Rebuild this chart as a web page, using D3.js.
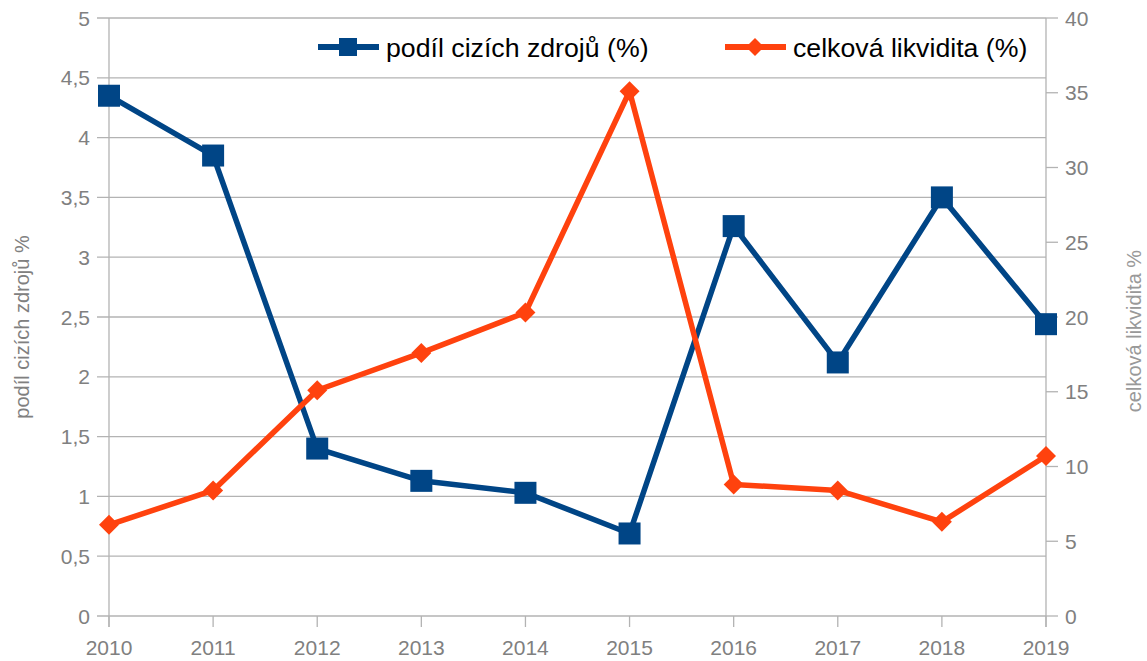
<!DOCTYPE html>
<html><head><meta charset="utf-8">
<script src="https://cdn.jsdelivr.net/npm/d3@7/dist/d3.min.js"></script>
<style>body{margin:0;background:#fff;}svg{display:block;font-family:"Liberation Sans",Arial,sans-serif;}</style>
</head><body>
<svg id="c" width="1147" height="661"></svg>
<script>
const years = [2010,2011,2012,2013,2014,2015,2016,2017,2018,2019];
const podil = [4.35,3.85,1.40,1.13,1.03,0.69,3.26,2.12,3.50,2.44];
const likvidita = [6.1,8.4,15.1,17.6,20.3,35.1,8.8,8.4,6.3,10.7];
const leftTicks = [0,0.5,1,1.5,2,2.5,3,3.5,4,4.5,5];
const rightTicks = [0,5,10,15,20,25,30,35,40];
const seriesNames = ["podíl cizích zdrojů (%)","celková likvidita (%)"];
const axisTitles = ["podíl cizích zdrojů %","celková likvidita %"];

const svg = d3.select("#c");
const L=109,R=1046,T=18,B=616;
const grid="#b3b3b3", txt="#808080";
const blue="#004586", orange="#ff420e";

const x = d3.scalePoint().domain(years).range([L,R]);
const yL = d3.scaleLinear().domain([0,5]).range([B,T]);
const yR = d3.scaleLinear().domain([0,40]).range([B,T]);
const fmt = d => String(d).replace(".",",");

svg.append("g").selectAll("line").data(leftTicks).join("line")
 .attr("x1",L-12).attr("x2",R).attr("y1",d=>yL(d)).attr("y2",d=>yL(d))
 .attr("stroke",grid).attr("stroke-width",1.3);
svg.append("line").attr("x1",L).attr("x2",L).attr("y1",T).attr("y2",B+11).attr("stroke",grid).attr("stroke-width",1.3);
svg.append("line").attr("x1",R).attr("x2",R).attr("y1",T).attr("y2",B+11).attr("stroke",grid).attr("stroke-width",1.3);
svg.append("g").selectAll("line").data(years).join("line")
 .attr("x1",d=>x(d)).attr("x2",d=>x(d)).attr("y1",B).attr("y2",B+11)
 .attr("stroke",grid).attr("stroke-width",1.3);
svg.append("g").selectAll("line").data(rightTicks).join("line")
 .attr("x1",R).attr("x2",R+12).attr("y1",d=>yR(d)).attr("y2",d=>yR(d))
 .attr("stroke",grid).attr("stroke-width",1.3);

svg.append("g").selectAll("text").data(leftTicks).join("text")
 .attr("x",L-19).attr("y",d=>yL(d)).attr("dy","0.36em").attr("text-anchor","end")
 .attr("fill",txt).attr("font-size",21).text(fmt);
svg.append("g").selectAll("text").data(rightTicks).join("text")
 .attr("x",R+19).attr("y",d=>yR(d)).attr("dy","0.36em").attr("text-anchor","start")
 .attr("fill",txt).attr("font-size",21).text(d=>d);
svg.append("g").selectAll("text").data(years).join("text")
 .attr("x",d=>x(d)).attr("y",B+39).attr("text-anchor","middle")
 .attr("fill",txt).attr("font-size",21).text(d=>d);

svg.append("text").attr("transform",`translate(29,327) rotate(-90)`)
 .attr("text-anchor","middle").attr("fill",txt).attr("font-size",20).text(axisTitles[0]);
svg.append("text").attr("transform",`translate(1141,331) rotate(-90)`)
 .attr("text-anchor","middle").attr("fill","#999").attr("font-size",20).text(axisTitles[1]);

const lineL = d3.line().x((d,i)=>x(years[i])).y(d=>yL(d));
const lineR = d3.line().x((d,i)=>x(years[i])).y(d=>yR(d));
svg.append("path").datum(podil).attr("d",lineL).attr("fill","none").attr("stroke",blue).attr("stroke-width",5.5).attr("stroke-linejoin","round");
svg.append("path").datum(likvidita).attr("d",lineR).attr("fill","none").attr("stroke",orange).attr("stroke-width",5.5).attr("stroke-linejoin","round");

const sq=22, dm=10;
svg.append("g").selectAll("rect").data(podil).join("rect")
 .attr("x",(d,i)=>x(years[i])-sq/2).attr("y",d=>yL(d)-sq/2).attr("width",sq).attr("height",sq).attr("fill",blue);
const diamond = (cx,cy,r)=>`M${cx},${cy-r}L${cx+r},${cy}L${cx},${cy+r}L${cx-r},${cy}Z`;
svg.append("g").selectAll("path").data(likvidita).join("path")
 .attr("d",(d,i)=>diamond(x(years[i]),yR(d),dm)).attr("fill",orange);

const lg = svg.append("g");
const legItems=[{x:318,c:blue,t:seriesNames[0],m:"sq"},{x:725,c:orange,t:seriesNames[1],m:"dm"}];
legItems.forEach(it=>{
  const cy=47;
  lg.append("line").attr("x1",it.x).attr("x2",it.x+61).attr("y1",cy).attr("y2",cy).attr("stroke",it.c).attr("stroke-width",6);
  if(it.m==="sq") lg.append("rect").attr("x",it.x+30-9).attr("y",cy-9).attr("width",18).attr("height",18).attr("fill",it.c);
  else lg.append("path").attr("d",diamond(it.x+30,cy,9)).attr("fill",it.c);
  lg.append("text").attr("x",it.x+68).attr("y",cy).attr("dy","0.36em").attr("font-size",26.7).attr("fill","#000").text(it.t);
});
</script>
</body></html>
